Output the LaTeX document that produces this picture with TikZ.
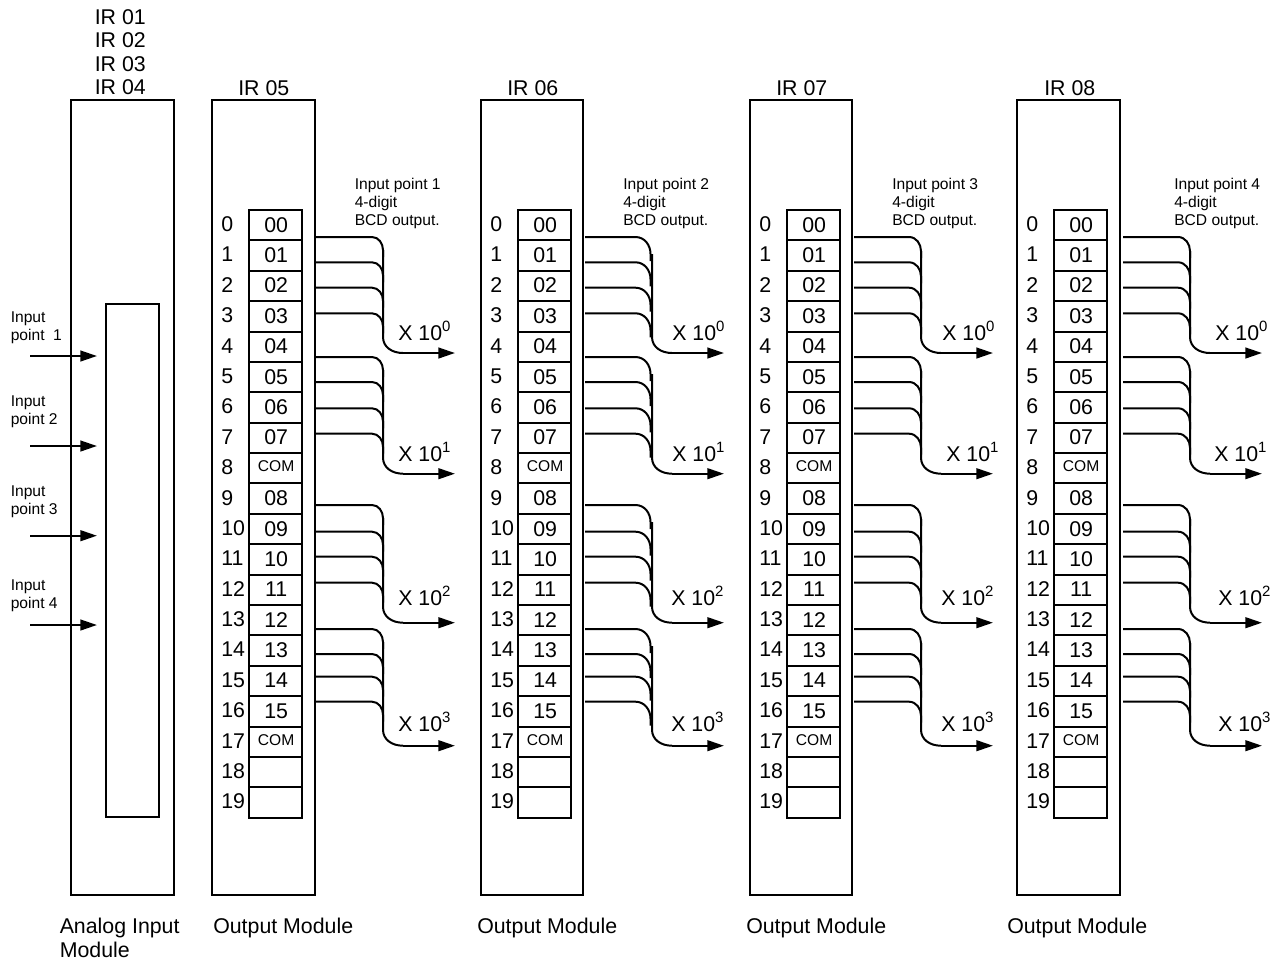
\documentclass[tikz,border=0pt]{standalone}
\usepackage{fontspec}
\setmainfont{Liberation Sans}
\usetikzlibrary{positioning,arrows.meta,calc}

\newcommand{\bigtxt}{\fontsize{16}{17.5}\selectfont}
\newcommand{\smalltxt}{\fontsize{11.7}{13.5}\selectfont}
\newcommand{\comtxt}{\raisebox{2.4pt}{\smalltxt COM}}

\tikzset{
  modbox/.style={draw,line width=1.5pt,inner sep=0pt,outer sep=0pt,minimum width=77.25pt,minimum height=596.25pt,anchor=north west},
  slotbox/.style={draw,line width=1.5pt,inner sep=0pt,outer sep=0pt,minimum width=39.75pt,minimum height=22.79pt,font=\bigtxt},
  numtxt/.style={anchor=west,inner sep=0pt,font=\bigtxt},
  labtxt/.style={anchor=west,inner sep=0pt,font=\bigtxt},
  caplines/.style={anchor=west,inner sep=0pt,align=left,font=\fontsize{16}{18}\selectfont},
  notetxt/.style={anchor=west,inner sep=0pt,align=left,font=\fontsize{11.7}{13.5}\selectfont},
  branchline/.style={line width=1.5pt},
  outarrow/.style={line width=1.7pt,-{Triangle[length=12.5pt,width=8pt]}},
}

\begin{document}
\begin{tikzpicture}[x=0.75pt,y=-0.75pt]
  \useasboundingbox (0,0) rectangle (1277,961);
  % analog input module
  \node[caplines,font=\fontsize{16}{17.5}\selectfont] (irlist) at (94.5,52) {IR 01\\IR 02\\IR 03\\IR 04};
  \node[modbox] (analog) at (71,99.5) {};
  \node[draw,line width=1.5pt,inner sep=0pt,outer sep=0pt,minimum width=39.75pt,minimum height=384.4pt,anchor=north west] (window) at (106,304) {};
  \node[caplines] (analogcap) at (59.5,938) {Analog Input\\Module};
  \foreach \k/\y/\ty/\gap in {1/356/327.5/\ \ ,2/446/411.5/\ ,3/535.7/501.5/\ ,4/625/595.5/\ }{
    \node[notetxt] (inlab\k) at (10.5,\ty) {Input\\point\gap\k};
    \coordinate (infrom\k) at (30,\y);
    \coordinate (into\k) at (97,\y);
    \draw[outarrow] (infrom\k) -- (into\k);
  }
  % output modules
  \foreach \m/\lft/\wdt/\irx/\notex/\capx/\off/\rad/\kink/\xa/\xb/\xc/\xd in {
    5/212/103/238/354.5/213/0/11/0/398/398/398/398,
    6/481/102/507/623/477/0/15/1.5/672/672/671/671,
    7/750/102/776/892/746/0/12/0/942/946/941/941,
    8/1017/103/1044/1174/1007/2/12/0/1215/1214/1218/1218}{
    \node[modbox,minimum width=\wdt*0.75pt] (mod\m) at (\lft,99.5) {};
    \node[labtxt] (ir\m) at (\irx,88) {IR 0\m};
    \node[caplines] (cap\m) at (\capx,927.5) {Output Module};
    \node[notetxt] (note\m) at (\notex,203) {Input point \the\numexpr\m-4\relax\\4-digit\\BCD output.};
    \foreach \lab [count=\r from 0] in {00,01,02,03,04,05,06,07,\comtxt,08,09,10,11,12,13,14,15,\comtxt,{},{}}{
      \node[slotbox] (slot\m-\r) at (\lft+37+26.5,225.2+30.385*\r) {\hspace*{1pt}\raisebox{0.7pt}{\lab}};
      \node[numtxt] (num\m-\r) at (\lft+9,224.2+30.385*\r) {\r};
    }
    \foreach \g/\ya/\yb/\yc/\yd/\ye/\xl/\yl in {
      0/237/262.3/287.7/313.3/353/\xa/331,
      1/357/382/408.3/433.7/473.7/\xb/452,
      2/505/531.7/556.7/582.7/622.7/\xc/596,
      3/629/654/676.7/701.7/745.7/\xd/722}{
      \foreach \y [count=\i] in {\ya,\yb,\yc,\yd}{
        \coordinate (from\m-\g-\i) at (\lft+104+\off,\y);
        \coordinate (bend\m-\g-\i) at (\lft+171+\off-\kink-\rad,\y);
        \draw[branchline] (from\m-\g-\i) -- (bend\m-\g-\i)
          .. controls +(0.6*\rad,0) and +(0,-0.6*\rad) .. ++(\rad,\rad+2) -- ++(0,7);
      }
      \coordinate (top\m-\g) at (\lft+171+\off,\ya+\rad+2);
      \coordinate (low\m-\g) at (\lft+171+\off,\ye-16);
      \coordinate (turn\m-\g) at (\lft+191+\off,\ye);
      \coordinate (out\m-\g) at (\lft+243+\off,\ye);
      \draw[branchline] (top\m-\g) -- (low\m-\g) .. controls +(0,10) and +(-11,0) .. (turn\m-\g);
      \draw[outarrow] (turn\m-\g) -- (out\m-\g);
      \node[labtxt] (pow\m-\g) at (\xl,\yl) {X 10\textsuperscript{\g}};
    }
  }
\end{tikzpicture}
\end{document}
